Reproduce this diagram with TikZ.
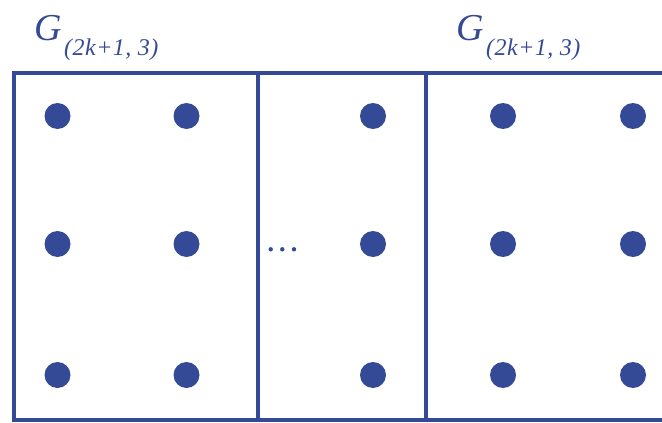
\documentclass[tikz,border=0pt]{standalone}
\usepackage{fontspec}
\newfontfamily\labelfont{Liberation Serif}
\definecolor{gblue}{RGB}{52,74,150}
\begin{document}
\begin{tikzpicture}[x=1pt,y=-1pt,
  dot/.style={circle,fill=gblue,inner sep=0pt,minimum size=26pt},
  tiny/.style={circle,fill=gblue,inner sep=0pt,minimum size=4.4pt},
  frameline/.style={draw=gblue,line width=4pt},
  bigG/.style={anchor=base west,inner sep=0pt,text=gblue,font=\labelfont\fontsize{38}{38}\selectfont\itshape},
  subG/.style={anchor=base west,inner sep=0pt,text=gblue,font=\labelfont\addfontfeature{LetterSpace=2}\fontsize{24}{24}\selectfont\itshape}]
\useasboundingbox (0,0) rectangle (662,423);
% frame
\coordinate (tr) at (664,72.5);
\coordinate (tl) at (13.5,72.5);
\coordinate (bl) at (13.5,420);
\coordinate (br) at (664,420);
\draw[frameline] (tr) -- (tl) -- (bl) -- (br);
\coordinate (v1t) at (258,72.5);
\coordinate (v1b) at (258,420);
\coordinate (v2t) at (426,72.5);
\coordinate (v2b) at (426,420);
\draw[frameline] (v1t) -- (v1b);
\draw[frameline] (v2t) -- (v2b);
% labels
\node[bigG] (g1) at (34,40) {G};
\node[subG] (s1) at (64,55) {(2k+1, 3)};
\node[bigG] (g2) at (456,40) {G};
\node[subG] (s2) at (486,55) {(2k+1, 3)};
% dots
\foreach \y/\r in {116/a,244/b,375/c}{
  \node[dot] (d1\r) at (57.5,\y) {};
  \node[dot] (d2\r) at (186.5,\y) {};
  \node[dot] (d3\r) at (373,\y) {};
  \node[dot] (d4\r) at (503,\y) {};
  \node[dot] (d5\r) at (633,\y) {};
}
% ellipsis
\node[tiny] (e1) at (270.7,249.3) {};
\node[tiny] (e2) at (282.3,249.3) {};
\node[tiny] (e3) at (294,249.3) {};
\end{tikzpicture}
\end{document}
